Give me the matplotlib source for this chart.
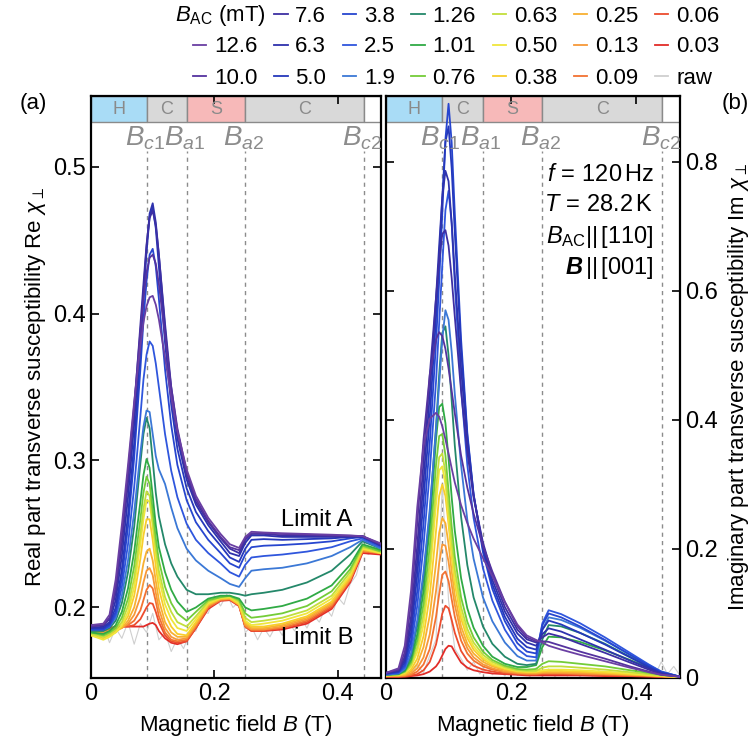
import matplotlib.pyplot as plt
import matplotlib.transforms as mtransforms
from matplotlib import font_manager
from matplotlib.lines import Line2D

# magnetic field grid (T) shared by all the smoothed curves
field = [0.00, 0.02, 0.03, 0.04, 0.05, 0.06, 0.07, 0.08, 0.085, 0.09, 0.095, 0.10, 0.105,
         0.11, 0.12, 0.13, 0.14, 0.155, 0.17, 0.19, 0.21, 0.225, 0.24, 0.25, 0.26, 0.28,
         0.31, 0.35, 0.39, 0.42, 0.44, 0.47]

amplitudes = ['12.6', '10.0', '7.6', '6.3', '5.0', '3.8', '2.5', '1.9', '1.26', '1.01',
              '0.76', '0.63', '0.50', '0.38', '0.25', '0.13', '0.09', '0.06', '0.03']

# phase boundaries (T)
b_c1, b_a1, b_a2, b_c2 = 0.090, 0.155, 0.250, 0.442

# ---- real part ----
re_126 = [0.188, 0.189, 0.195, 0.219, 0.256, 0.297, 0.340, 0.378, 0.394, 0.405, 0.411, 0.412, 0.406,
          0.396, 0.370, 0.343, 0.320, 0.294, 0.276, 0.261, 0.250, 0.243, 0.2405, 0.248, 0.2515, 0.251,
          0.2505, 0.250, 0.2495, 0.249, 0.2485, 0.2435]
re_100 = [0.187, 0.188, 0.193, 0.214, 0.250, 0.292, 0.338, 0.388, 0.410, 0.428, 0.438, 0.440, 0.434,
          0.420, 0.385, 0.350, 0.322, 0.292, 0.274, 0.259, 0.248, 0.241, 0.239, 0.247, 0.2505, 0.2505,
          0.250, 0.2495, 0.249, 0.2488, 0.2485, 0.243]
re_76 = [0.187, 0.188, 0.192, 0.210, 0.243, 0.285, 0.335, 0.392, 0.420, 0.447, 0.465, 0.470, 0.460,
         0.440, 0.393, 0.350, 0.320, 0.290, 0.272, 0.258, 0.247, 0.240, 0.237, 0.246, 0.250, 0.250,
         0.249, 0.249, 0.2485, 0.2485, 0.2485, 0.2425]
re_63 = [0.186, 0.187, 0.190, 0.205, 0.235, 0.275, 0.325, 0.385, 0.415, 0.445, 0.468, 0.475, 0.462,
         0.440, 0.390, 0.345, 0.315, 0.287, 0.270, 0.256, 0.245, 0.237, 0.235, 0.244, 0.249, 0.249,
         0.248, 0.248, 0.248, 0.248, 0.248, 0.242]
re_50 = [0.186, 0.186, 0.189, 0.200, 0.226, 0.263, 0.312, 0.375, 0.410, 0.442, 0.466, 0.472, 0.458,
         0.432, 0.380, 0.338, 0.308, 0.281, 0.265, 0.252, 0.242, 0.234, 0.231, 0.240, 0.246, 0.2465,
         0.246, 0.2465, 0.247, 0.248, 0.2485, 0.242]
re_38 = [0.185, 0.185, 0.188, 0.197, 0.220, 0.255, 0.302, 0.362, 0.395, 0.422, 0.440, 0.444, 0.432,
         0.410, 0.362, 0.324, 0.297, 0.273, 0.258, 0.246, 0.237, 0.230, 0.227, 0.236, 0.241, 0.242,
         0.2425, 0.2435, 0.245, 0.247, 0.248, 0.242]
re_25 = [0.185, 0.185, 0.187, 0.195, 0.214, 0.243, 0.282, 0.330, 0.355, 0.372, 0.381, 0.378, 0.366,
         0.350, 0.318, 0.293, 0.275, 0.257, 0.246, 0.237, 0.230, 0.224, 0.221, 0.229, 0.234, 0.235,
         0.236, 0.238, 0.241, 0.245, 0.247, 0.241]
re_19 = [0.185, 0.185, 0.187, 0.193, 0.208, 0.232, 0.265, 0.305, 0.323, 0.334, 0.333, 0.318, 0.303,
         0.294, 0.284, 0.268, 0.254, 0.240, 0.232, 0.225, 0.220, 0.216, 0.214, 0.220, 0.225, 0.226,
         0.227, 0.230, 0.235, 0.241, 0.246, 0.240]
re_126b = [0.184, 0.184, 0.186, 0.191, 0.203, 0.224, 0.255, 0.298, 0.318, 0.329, 0.322, 0.300, 0.278,
           0.262, 0.243, 0.230, 0.221, 0.212, 0.209, 0.209, 0.210, 0.210, 0.209, 0.208, 0.209, 0.210,
           0.212, 0.217, 0.225, 0.236, 0.245, 0.240]
re_101 = [0.183, 0.182, 0.184, 0.188, 0.197, 0.213, 0.238, 0.272, 0.290, 0.301, 0.295, 0.276, 0.256,
          0.241, 0.224, 0.212, 0.204, 0.197, 0.200, 0.206, 0.208, 0.208, 0.206, 0.200, 0.198, 0.199,
          0.201, 0.206, 0.215, 0.229, 0.243, 0.239]
re_076 = [0.183, 0.181, 0.183, 0.186, 0.193, 0.206, 0.228, 0.260, 0.278, 0.289, 0.284, 0.266, 0.247,
          0.232, 0.214, 0.203, 0.196, 0.191, 0.197, 0.205, 0.207, 0.208, 0.205, 0.196, 0.193, 0.194,
          0.196, 0.201, 0.211, 0.226, 0.242, 0.238]
re_063 = [0.182, 0.180, 0.182, 0.185, 0.190, 0.201, 0.220, 0.250, 0.267, 0.279, 0.276, 0.259, 0.240,
          0.225, 0.207, 0.197, 0.190, 0.187, 0.194, 0.204, 0.207, 0.2075, 0.204, 0.193, 0.190, 0.191,
          0.193, 0.198, 0.208, 0.224, 0.241, 0.238]
re_050 = [0.181, 0.178, 0.180, 0.183, 0.188, 0.197, 0.214, 0.243, 0.260, 0.273, 0.272, 0.255, 0.236,
          0.220, 0.202, 0.192, 0.186, 0.184, 0.192, 0.203, 0.2065, 0.207, 0.203, 0.191, 0.188, 0.189,
          0.191, 0.196, 0.206, 0.222, 0.240, 0.237]
re_038 = [0.181, 0.179, 0.181, 0.183, 0.187, 0.194, 0.208, 0.233, 0.249, 0.260, 0.260, 0.246, 0.228,
          0.213, 0.196, 0.187, 0.182, 0.181, 0.190, 0.202, 0.206, 0.2065, 0.202, 0.190, 0.187, 0.187,
          0.189, 0.194, 0.204, 0.221, 0.240, 0.237]
re_025 = [0.182, 0.181, 0.182, 0.184, 0.186, 0.191, 0.200, 0.218, 0.230, 0.238, 0.240, 0.232, 0.218,
          0.205, 0.190, 0.183, 0.180, 0.180, 0.189, 0.202, 0.206, 0.206, 0.202, 0.189, 0.186, 0.186,
          0.188, 0.193, 0.203, 0.220, 0.239, 0.237]
re_013 = [0.183, 0.183, 0.184, 0.185, 0.186, 0.189, 0.195, 0.207, 0.217, 0.225, 0.2268, 0.222, 0.210,
          0.199, 0.186, 0.180, 0.178, 0.179, 0.188, 0.201, 0.2055, 0.206, 0.202, 0.188, 0.185, 0.185,
          0.187, 0.192, 0.202, 0.219, 0.239, 0.237]
re_009 = [0.184, 0.184, 0.185, 0.186, 0.187, 0.188, 0.191, 0.198, 0.205, 0.212, 0.2153, 0.213, 0.204,
          0.194, 0.183, 0.178, 0.177, 0.178, 0.187, 0.200, 0.205, 0.2055, 0.2015, 0.187, 0.185, 0.185,
          0.186, 0.191, 0.201, 0.219, 0.238, 0.237]
re_006 = [0.185, 0.185, 0.186, 0.186, 0.187, 0.187, 0.188, 0.192, 0.196, 0.200, 0.203, 0.2025, 0.197,
          0.190, 0.181, 0.177, 0.176, 0.177, 0.186, 0.200, 0.205, 0.2055, 0.201, 0.187, 0.184, 0.184,
          0.186, 0.190, 0.200, 0.218, 0.238, 0.237]
re_003 = [0.186, 0.186, 0.186, 0.187, 0.187, 0.187, 0.187, 0.187, 0.187, 0.188, 0.189, 0.1895, 0.188,
          0.184, 0.179, 0.176, 0.175, 0.177, 0.186, 0.199, 0.2045, 0.205, 0.201, 0.187, 0.184, 0.184,
          0.185, 0.189, 0.199, 0.217, 0.237, 0.236]

# ---- imaginary part ----
im_126 = [0.008, 0.015, 0.050, 0.135, 0.265, 0.360, 0.402, 0.411, 0.405, 0.390, 0.370, 0.348, 0.325,
          0.303, 0.268, 0.240, 0.216, 0.186, 0.158, 0.118, 0.083, 0.066, 0.059, 0.055, 0.050, 0.044,
          0.036, 0.026, 0.016, 0.009, 0.005, 0.002]
im_100 = [0.008, 0.013, 0.040, 0.115, 0.240, 0.370, 0.470, 0.525, 0.536, 0.530, 0.510, 0.480, 0.445,
          0.410, 0.345, 0.295, 0.255, 0.205, 0.165, 0.118, 0.080, 0.063, 0.057, 0.057, 0.056, 0.050,
          0.041, 0.030, 0.018, 0.010, 0.005, 0.002]
im_76 = [0.008, 0.012, 0.033, 0.095, 0.205, 0.335, 0.470, 0.590, 0.648, 0.688, 0.694, 0.670, 0.620,
         0.560, 0.445, 0.350, 0.280, 0.210, 0.160, 0.110, 0.075, 0.060, 0.055, 0.063, 0.069, 0.064,
         0.053, 0.039, 0.024, 0.013, 0.006, 0.002]
im_63 = [0.007, 0.011, 0.028, 0.082, 0.182, 0.305, 0.440, 0.590, 0.670, 0.745, 0.786, 0.770, 0.705,
         0.625, 0.480, 0.365, 0.283, 0.205, 0.152, 0.103, 0.069, 0.055, 0.050, 0.068, 0.077, 0.072,
         0.060, 0.044, 0.027, 0.015, 0.007, 0.002]
im_50 = [0.007, 0.010, 0.024, 0.070, 0.160, 0.275, 0.405, 0.560, 0.650, 0.745, 0.830, 0.855, 0.790,
         0.690, 0.510, 0.375, 0.285, 0.200, 0.145, 0.095, 0.061, 0.048, 0.044, 0.075, 0.089, 0.083,
         0.070, 0.052, 0.032, 0.017, 0.008, 0.002]
im_38 = [0.006, 0.009, 0.020, 0.058, 0.135, 0.240, 0.365, 0.520, 0.615, 0.720, 0.835, 0.890, 0.830,
         0.720, 0.525, 0.380, 0.285, 0.195, 0.138, 0.088, 0.054, 0.041, 0.038, 0.082, 0.100, 0.094,
         0.080, 0.059, 0.036, 0.019, 0.009, 0.002]
im_25 = [0.006, 0.008, 0.017, 0.048, 0.112, 0.205, 0.320, 0.460, 0.550, 0.640, 0.725, 0.755, 0.705,
         0.610, 0.450, 0.330, 0.248, 0.170, 0.120, 0.075, 0.045, 0.034, 0.032, 0.085, 0.105, 0.099,
         0.085, 0.063, 0.039, 0.021, 0.010, 0.002]
im_19 = [0.005, 0.007, 0.014, 0.038, 0.090, 0.165, 0.262, 0.385, 0.455, 0.525, 0.570, 0.555, 0.505,
         0.440, 0.330, 0.245, 0.185, 0.125, 0.088, 0.055, 0.034, 0.027, 0.027, 0.075, 0.094, 0.090,
         0.078, 0.058, 0.036, 0.020, 0.010, 0.002]
im_126b = [0.005, 0.007, 0.013, 0.034, 0.082, 0.155, 0.255, 0.390, 0.470, 0.535, 0.545, 0.500, 0.430,
           0.360, 0.250, 0.175, 0.125, 0.080, 0.053, 0.033, 0.022, 0.020, 0.022, 0.060, 0.082, 0.080,
           0.070, 0.053, 0.033, 0.018, 0.009, 0.002]
im_101 = [0.005, 0.006, 0.011, 0.028, 0.068, 0.135, 0.235, 0.370, 0.420, 0.425, 0.395, 0.340, 0.280,
          0.228, 0.155, 0.108, 0.078, 0.050, 0.033, 0.022, 0.017, 0.017, 0.020, 0.048, 0.064, 0.063,
          0.056, 0.043, 0.028, 0.016, 0.008, 0.002]
im_076 = [0.005, 0.006, 0.010, 0.024, 0.058, 0.115, 0.205, 0.330, 0.375, 0.378, 0.345, 0.290, 0.235,
          0.188, 0.125, 0.087, 0.063, 0.041, 0.028, 0.019, 0.014, 0.013, 0.014, 0.022, 0.026, 0.025,
          0.022, 0.018, 0.012, 0.008, 0.005, 0.002]
im_063 = [0.005, 0.005, 0.009, 0.020, 0.048, 0.098, 0.180, 0.295, 0.342, 0.348, 0.318, 0.265, 0.212,
          0.168, 0.110, 0.076, 0.055, 0.036, 0.025, 0.017, 0.012, 0.011, 0.011, 0.016, 0.018, 0.018,
          0.016, 0.013, 0.009, 0.006, 0.004, 0.002]
im_050 = [0.004, 0.005, 0.008, 0.017, 0.040, 0.083, 0.158, 0.270, 0.322, 0.328, 0.300, 0.250, 0.198,
          0.155, 0.100, 0.068, 0.049, 0.032, 0.022, 0.015, 0.011, 0.010, 0.010, 0.012, 0.013, 0.013,
          0.012, 0.010, 0.007, 0.005, 0.003, 0.002]
im_038 = [0.004, 0.004, 0.006, 0.013, 0.030, 0.065, 0.128, 0.228, 0.282, 0.300, 0.282, 0.238, 0.188,
          0.146, 0.092, 0.062, 0.044, 0.029, 0.020, 0.014, 0.010, 0.009, 0.009, 0.010, 0.011, 0.011,
          0.010, 0.008, 0.006, 0.004, 0.003, 0.002]
im_025 = [0.003, 0.004, 0.005, 0.010, 0.022, 0.048, 0.097, 0.178, 0.225, 0.248, 0.240, 0.207, 0.165,
          0.128, 0.080, 0.053, 0.038, 0.025, 0.018, 0.012, 0.009, 0.008, 0.008, 0.009, 0.009, 0.009,
          0.009, 0.007, 0.005, 0.004, 0.003, 0.001]
im_013 = [0.003, 0.003, 0.004, 0.007, 0.015, 0.032, 0.068, 0.135, 0.178, 0.207, 0.205, 0.180, 0.145,
          0.113, 0.070, 0.046, 0.032, 0.021, 0.015, 0.010, 0.008, 0.007, 0.007, 0.008, 0.008, 0.008,
          0.007, 0.006, 0.005, 0.004, 0.003, 0.001]
im_009 = [0.003, 0.003, 0.003, 0.005, 0.010, 0.021, 0.045, 0.095, 0.130, 0.160, 0.165, 0.150, 0.122,
          0.095, 0.058, 0.038, 0.027, 0.018, 0.013, 0.009, 0.007, 0.006, 0.006, 0.007, 0.007, 0.007,
          0.006, 0.005, 0.004, 0.003, 0.002, 0.001]
im_006 = [0.002, 0.002, 0.003, 0.004, 0.006, 0.012, 0.025, 0.052, 0.075, 0.100, 0.112, 0.108, 0.090,
          0.070, 0.042, 0.027, 0.019, 0.013, 0.010, 0.007, 0.006, 0.005, 0.005, 0.006, 0.006, 0.006,
          0.005, 0.004, 0.003, 0.003, 0.002, 0.001]
im_003 = [0.002, 0.002, 0.002, 0.003, 0.004, 0.006, 0.010, 0.018, 0.025, 0.035, 0.045, 0.050, 0.049,
          0.040, 0.024, 0.016, 0.012, 0.009, 0.007, 0.006, 0.005, 0.004, 0.004, 0.004, 0.004, 0.004,
          0.004, 0.003, 0.003, 0.002, 0.002, 0.001]

raw_field = [0.00, 0.01, 0.02, 0.03, 0.04, 0.05, 0.06, 0.07, 0.08, 0.09, 0.10, 0.11, 0.12, 0.13,
             0.14, 0.15, 0.16, 0.17, 0.18, 0.19, 0.20, 0.21, 0.22, 0.23, 0.24, 0.25, 0.26, 0.27,
             0.28, 0.29, 0.30, 0.31, 0.32, 0.33, 0.34, 0.35, 0.36, 0.37, 0.38, 0.39, 0.40, 0.41,
             0.42, 0.43, 0.44, 0.45, 0.46, 0.47]
raw_re = [0.184, 0.181, 0.188, 0.176, 0.186, 0.179, 0.190, 0.175, 0.189, 0.183, 0.196, 0.178,
          0.183, 0.170, 0.179, 0.172, 0.183, 0.184, 0.197, 0.196, 0.208, 0.201, 0.209, 0.200,
          0.204, 0.183, 0.187, 0.178, 0.186, 0.180, 0.188, 0.181, 0.190, 0.184, 0.193, 0.186,
          0.195, 0.190, 0.200, 0.194, 0.207, 0.202, 0.216, 0.222, 0.238, 0.236, 0.241, 0.235]
raw_im = [0.004, 0.012, 0.002, 0.018, 0.004, 0.020, 0.008, 0.035, 0.060, 0.300, 0.120, 0.045,
          0.030, 0.012, 0.025, 0.006, 0.022, 0.005, 0.015, 0.003, 0.018, 0.004, 0.012, 0.002,
          0.016, 0.003, 0.014, 0.002, 0.011, 0.003, 0.013, 0.002, 0.010, 0.003, 0.012, 0.002,
          0.009, 0.003, 0.011, 0.002, 0.009, 0.003, 0.014, 0.004, 0.025, 0.006, 0.018, 0.004]

re_curves = [re_126, re_100, re_76, re_63, re_50, re_38, re_25, re_19, re_126b, re_101,
             re_076, re_063, re_050, re_038, re_025, re_013, re_009, re_006, re_003]
im_curves = [im_126, im_100, im_76, im_63, im_50, im_38, im_25, im_19, im_126b, im_101,
             im_076, im_063, im_050, im_038, im_025, im_013, im_009, im_006, im_003]

colors = ['#6a3fa3', '#55339f', '#3d2fa3', '#2e32ad', '#2538bb', '#2746cf', '#2f56dd', '#3b78d6',
          '#24886a', '#30aa45', '#74cc38', '#c3de3c', '#f0e63c', '#f8cd2c', '#f8b032', '#f79838',
          '#f27232', '#ec4c2e', '#e22c28']
raw_color = '#cfcfcf'

# fonts: narrow helvetica look if we have it
names = {f.name for f in font_manager.fontManager.ttflist}
fam = 'Liberation Sans Narrow' if 'Liberation Sans Narrow' in names else 'Liberation Sans'
plt.rcParams['font.family'] = [fam, 'DejaVu Sans']
plt.rcParams['mathtext.fontset'] = 'custom'
plt.rcParams['mathtext.rm'] = fam
plt.rcParams['mathtext.it'] = fam + ':italic'
plt.rcParams['mathtext.bf'] = fam + ':bold'
plt.rcParams['mathtext.bfit'] = fam + ':italic:bold'

fig = plt.figure(figsize=(7.54, 7.51), dpi=100)
ax1 = fig.add_axes([91 / 754, 73 / 751, 290 / 754, 582 / 751])
ax2 = fig.add_axes([386 / 754, 73 / 751, 294 / 754, 582 / 751])

bounds = [b_c1, b_a1, b_a2, b_c2]
sub = ['c1', 'a1', 'a2', 'c2']
band_fill = ['#a9dcf6', '#d9d9d9', '#f7b9b9', '#d9d9d9', 'white']
band_text = ['H', 'C', 'S', 'C', '']
gray = '#8c8c8c'


def decorate(ax):
    tr = mtransforms.blended_transform_factory(ax.transData, ax.transAxes)
    edges = [0.0] + bounds + [0.47]
    for x0, x1, c, t in zip(edges[:-1], edges[1:], band_fill, band_text):
        ax.axvspan(x0, x1, ymin=0.955, ymax=1.0, facecolor=c, edgecolor='#8a8a8a', lw=1, zorder=1)
        ax.text((x0 + x1) / 2, 0.977, t, transform=tr, ha='center', va='center',
                color='#8a8a8a', fontsize=13, zorder=2)
    for b, s in zip(bounds, sub):
        ax.axvline(b, ymin=0, ymax=0.905, color=gray, lw=1, ls=(0, (3, 3)), zorder=0.5)
        ax.text(b - 0.003, 0.928, r'$B_{%s}$' % s, transform=tr, ha='center', va='center',
                color=gray, fontsize=20)
    ax.set_xlim(0, 0.47)
    ax.set_xticks([0, 0.2, 0.4], ['0', '0.2', '0.4'])
    ax.tick_params(direction='in', top=True, right=True, length=6, width=1.2, labelsize=17)
    for sp in ax.spines.values():
        sp.set_linewidth(1.6)
    ax.set_xlabel('Magnetic field $B$ (T)', fontsize=16, labelpad=6)


# raw first so it sits underneath
ax1.plot(raw_field, raw_re, color=raw_color, lw=0.8, zorder=2)
ax2.plot(raw_field, raw_im, color=raw_color, lw=0.8, zorder=2)

handles = []
for i in range(len(amplitudes) - 1, -1, -1):
    ln, = ax1.plot(field, re_curves[i], color=colors[i], lw=1.3, zorder=3)
    ax2.plot(field, im_curves[i], color=colors[i], lw=1.3, zorder=3)
    handles.append(ln)
handles = handles[::-1]

decorate(ax1)
decorate(ax2)

ax1.set_ylim(0.152, 0.548)
ax1.set_yticks([0.2, 0.3, 0.4, 0.5], ['0.2', '0.3', '0.4', '0.5'])
ax1.set_ylabel(r'Real part transverse susceptibility Re $\chi_\perp$', fontsize=16, labelpad=4)
ax1.text(0.366, 0.2595, 'Limit A', ha='center', va='center', fontsize=17)
ax1.text(0.366, 0.179, 'Limit B', ha='center', va='center', fontsize=17)

ax2.set_ylim(0, 0.902)
ax2.set_yticks([0, 0.2, 0.4, 0.6, 0.8], ['0', '0.2', '0.4', '0.6', '0.8'])
ax2.tick_params(axis='y', labelleft=False, labelright=True)
ax2.yaxis.set_label_position('right')
ax2.set_ylabel(r'Imaginary part transverse susceptibility Im $\chi_\perp$', fontsize=16, labelpad=6)
info = [r'$f\,=\,120\,\mathrm{Hz}$', r'$T\,=\,28.2\,\mathrm{K}$',
        r'$B_\mathrm{AC}||\,[110]$', r'$\mathbfit{B}\,||\,[001]$']
for s, yy in zip(info, [0.780, 0.733, 0.684, 0.636]):
    ax2.text(0.428, yy, s, ha='right', va='center', fontsize=17)

fig.text(20 / 754, 1 - 103 / 751, '(a)', ha='left', va='center', fontsize=16)
fig.text(735 / 754, 1 - 103 / 751, '(b)', ha='center', va='center', fontsize=16)

# legend across the top; first slot is empty, heading drawn separately
blank = Line2D([], [], linestyle='none')
raw_handle = Line2D([], [], color=raw_color, lw=1.3)
leg_handles = [blank] + handles + [raw_handle]
leg_labels = [''] + amplitudes + ['raw']
fig.legend(leg_handles, leg_labels, ncol=7, loc='center', bbox_to_anchor=(0.605, 1 - 47 / 751),
           frameon=False, fontsize=16, handlelength=0.6, handletextpad=0.35,
           columnspacing=0.75, labelspacing=0.45, borderpad=0)
fig.text(266 / 754, 1 - 16 / 751, r'$B_\mathrm{AC}$ (mT)', ha='right', va='center', fontsize=16)

fig.savefig('out.png', dpi=100)
